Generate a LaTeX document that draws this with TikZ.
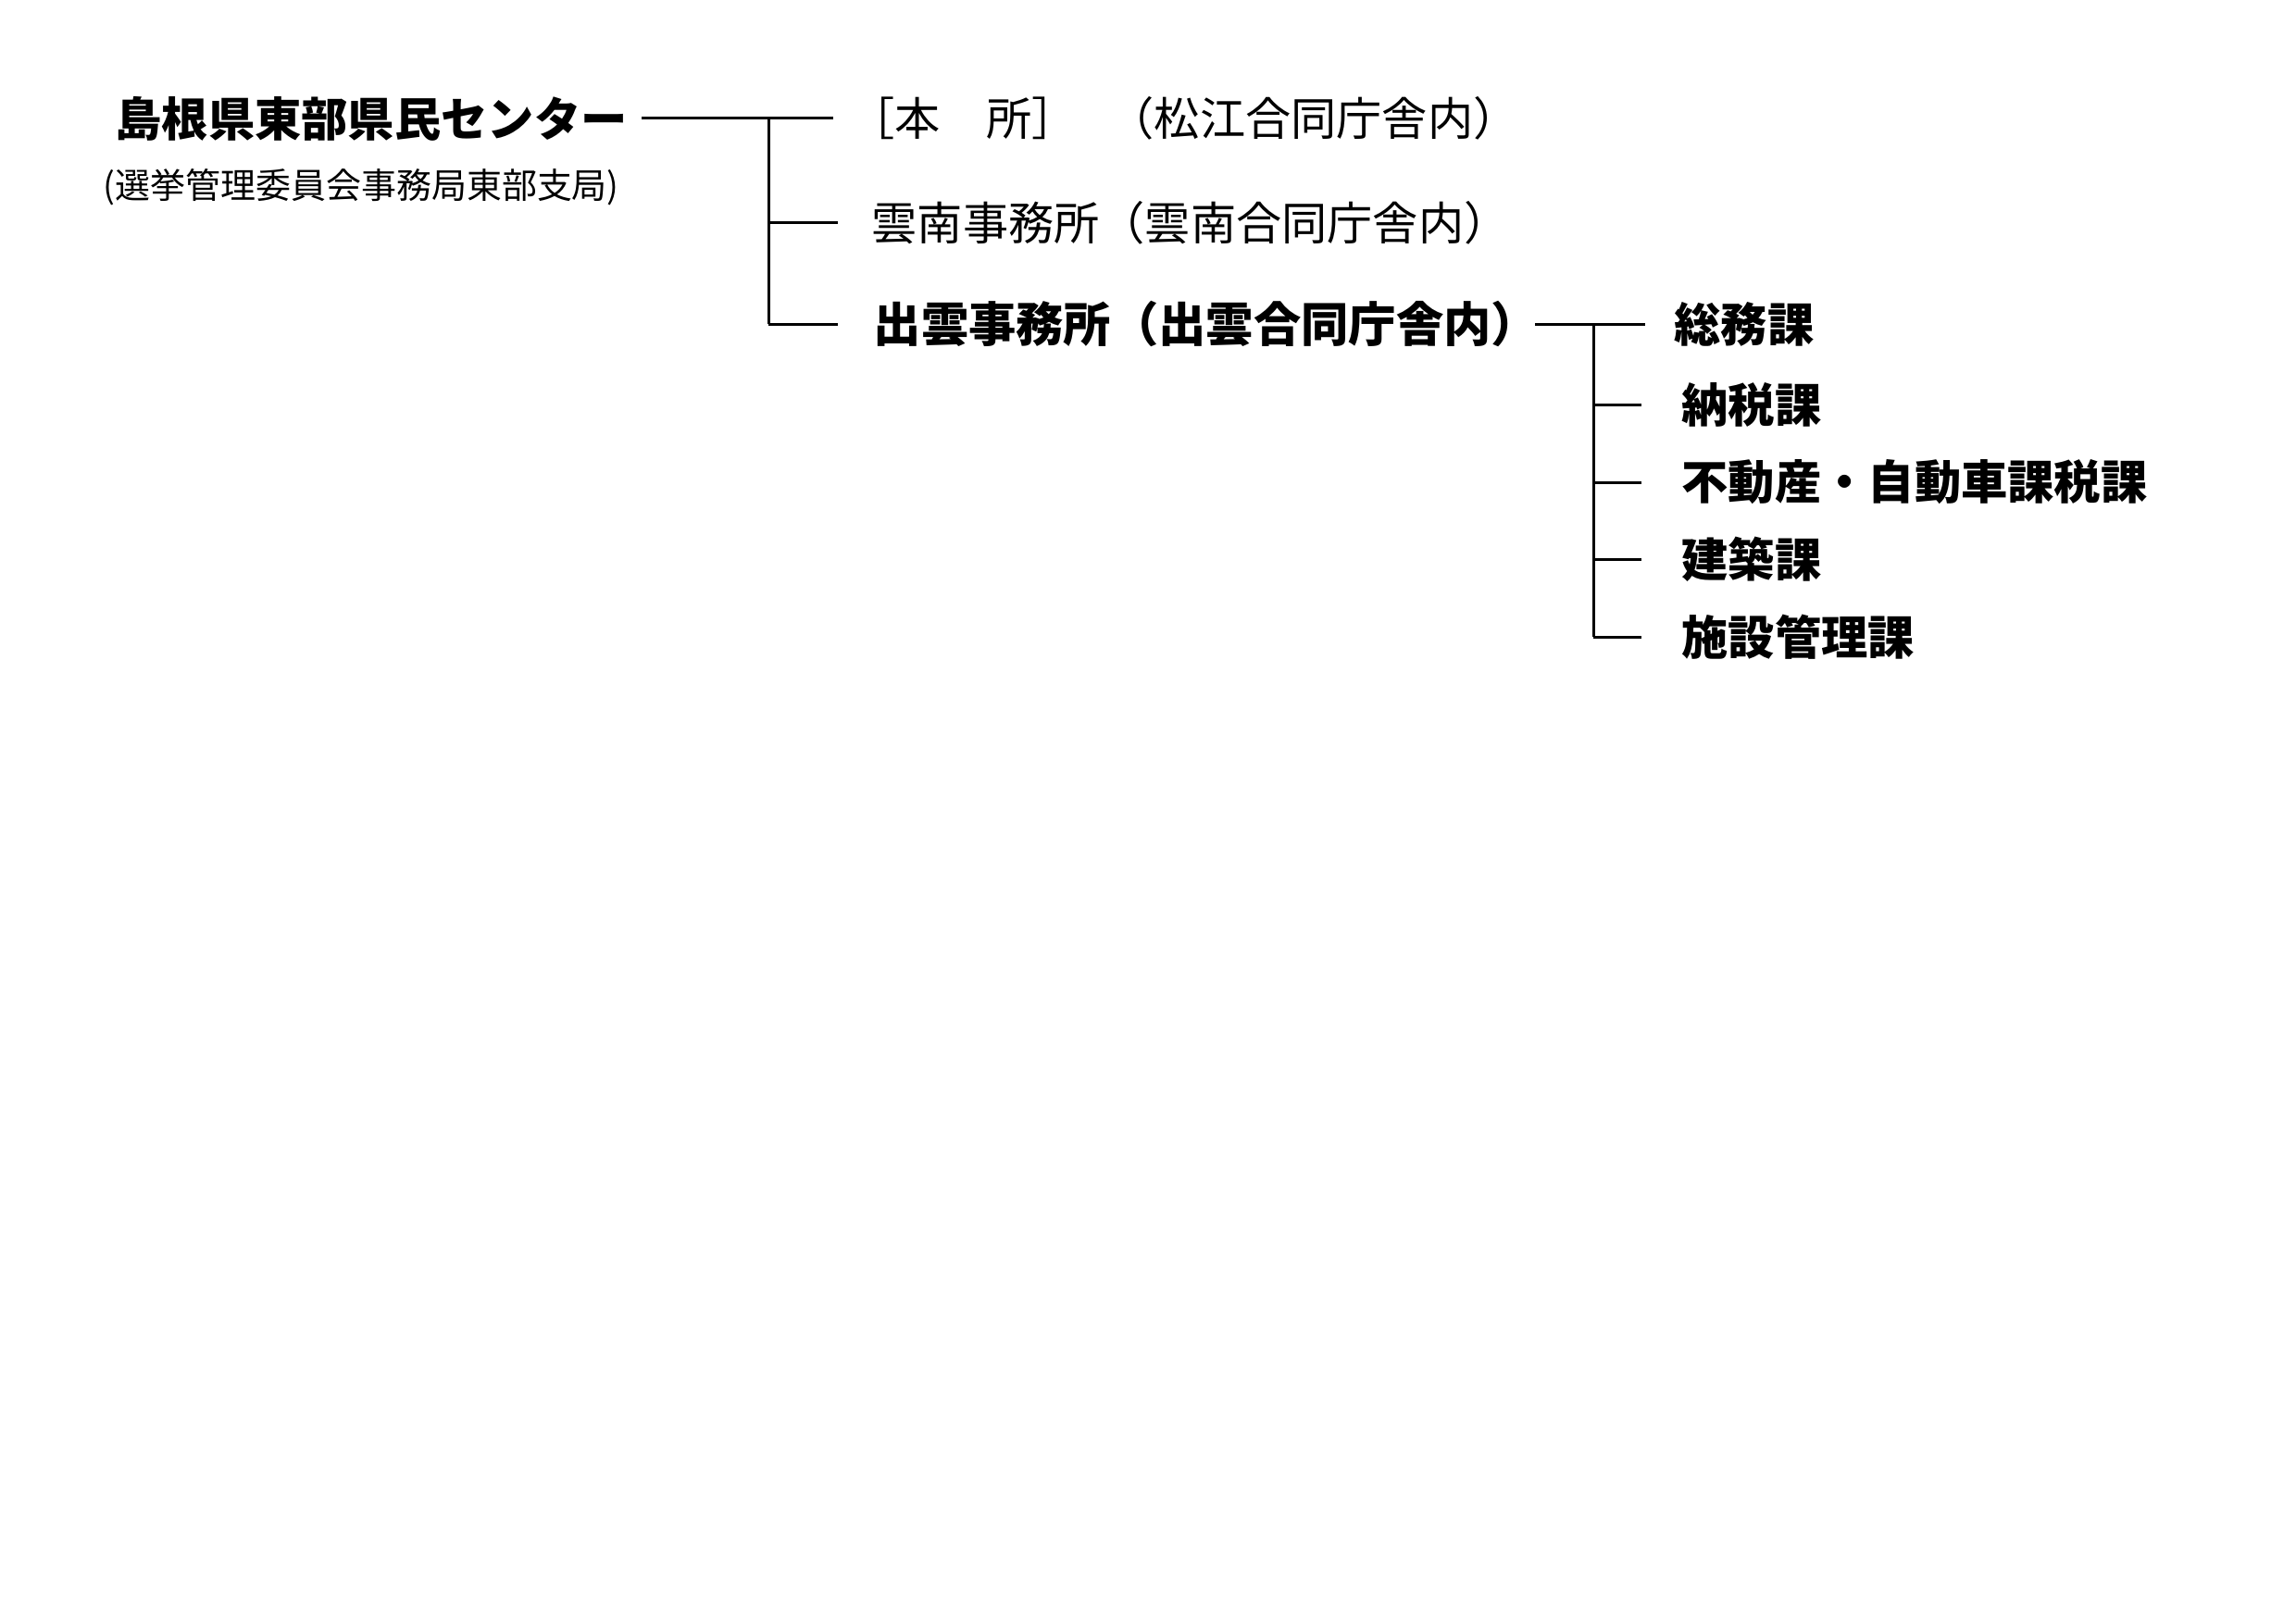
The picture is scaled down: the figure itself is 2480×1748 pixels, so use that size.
\documentclass[tikz,border=0pt]{standalone}
\usepackage{fontspec}
\newfontfamily\jp{Noto Sans CJK JP}
\begin{document}
\begin{tikzpicture}[x=0.1mm,y=-0.1mm,
  lbl/.style={anchor=west, inner sep=0pt, font=\jp\fontsize{14pt}{16pt}\selectfont},
  blbl/.style={lbl, font=\jp\bfseries\fontsize{14.3pt}{16pt}\selectfont},
  sublbl/.style={lbl, font=\jp\fontsize{10.8pt}{13pt}\selectfont},
  conn/.style={line width=0.3mm}]
\useasboundingbox[fill=white] (0,0) rectangle (2480,1748);
% texts
\node[blbl] (title) at (124,128) {島根県東部県民センター};
\node[sublbl] (subt) at (111,202) {(選挙管理委員会事務局東部支局)};
\node[lbl] (hon) at (917,128) {［本　所］};
\node[lbl] (honloc) at (1197,128) {（松江合同庁舎内）};
\node[lbl] (unnan) at (941,241) {雲南事務所（雲南合同庁舎内）};
\node[blbl, font=\jp\bfseries\fontsize{14.6pt}{16pt}\selectfont] (izumo) at (943,350) {出雲事務所（出雲合同庁舎内）};
\node[blbl] (somu) at (1808,350) {総務課};
\node[blbl] (nozei) at (1816,437) {納税課};
\node[blbl] (fudo) at (1816,521) {不動産・自動車課税課};
\node[blbl] (kenchiku) at (1816,604) {建築課};
\node[blbl] (shisetsu) at (1816,688) {施設管理課};
% first level connectors
\coordinate (t0) at (693,128);
\coordinate (t1) at (900,128);
\coordinate (v0) at (830,128);
\coordinate (v1) at (830,350);
\coordinate (u0) at (830,241);
\coordinate (u1) at (905,241);
\coordinate (i0) at (830,350);
\coordinate (i1) at (905,350);
\draw[conn] (t0) -- (t1);
\draw[conn] (v0) -- (v1);
\draw[conn] (u0) -- (u1);
\draw[conn] (i0) -- (i1);
% second level connectors
\coordinate (s0) at (1658,350);
\coordinate (s1) at (1777,350);
\coordinate (w0) at (1721,350);
\coordinate (w1) at (1721,688);
\draw[conn] (s0) -- (s1);
\draw[conn] (w0) -- (w1);
\foreach \yy/\nm in {437/nz,521/fd,604/kc,688/ss}{
  \coordinate (\nm0) at (1721,\yy);
  \coordinate (\nm1) at (1773,\yy);
  \draw[conn] (\nm0) -- (\nm1);
}
\end{tikzpicture}
\end{document}
